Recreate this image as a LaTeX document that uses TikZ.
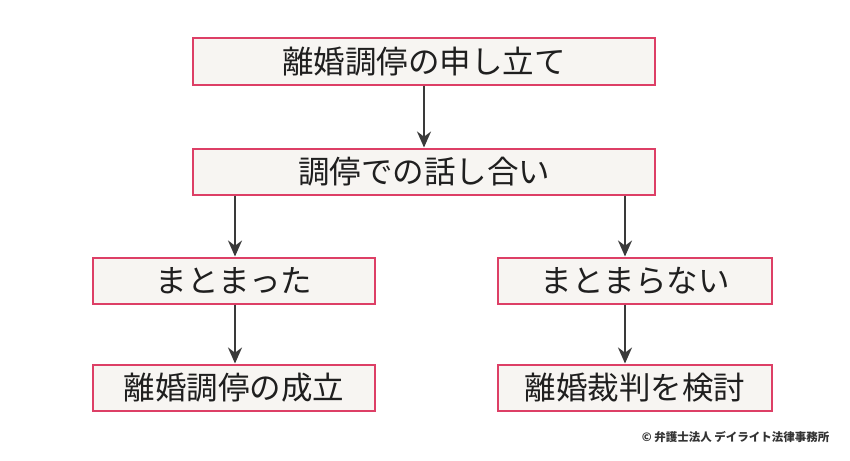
\documentclass[tikz,border=0pt]{standalone}
\usepackage{fontspec}
\setmainfont{Noto Sans CJK JP}
\usetikzlibrary{arrows.meta}
\definecolor{boxline}{HTML}{DD3F66}
\definecolor{boxfill}{HTML}{F7F5F2}
\definecolor{arrowgray}{HTML}{3A3A3A}
\tikzset{
  flowbox/.style={draw=boxline,fill=boxfill,line width=2pt,minimum height=46pt,
    inner sep=0pt,font=\fontsize{31.5}{33}\selectfont,text=black!88},
  flowarrow/.style={-{Stealth[length=16pt,width=14pt]},line width=2pt,draw=arrowgray}
}
\begin{document}
\begin{tikzpicture}[x=1pt,y=-1pt]
  \useasboundingbox[fill=white] (0,0) rectangle (850,460);

  \node[flowbox,minimum width=462pt] (apply) at (424,61.5) {離婚調停の申し立て};
  \node[flowbox,minimum width=462pt] (talk) at (424,171.5) {調停での話し合い};
  \node[flowbox,minimum width=282pt] (agree) at (234,280.5) {まとまった};
  \node[flowbox,minimum width=274pt] (fail) at (635,280.5) {まとまらない};
  \node[flowbox,minimum width=282pt] (settle) at (234,387.5) {離婚調停の成立};
  \node[flowbox,minimum width=274pt] (court) at (635,387.5) {離婚裁判を検討};

  \coordinate (lcol) at (235,0);
  \coordinate (rcol) at (625,0);

  \draw[flowarrow] (apply) -- (talk);
  \draw[flowarrow] (talk.south -| lcol) -- (agree.north -| lcol);
  \draw[flowarrow] (talk.south -| rcol) -- (fail.north -| rcol);
  \draw[flowarrow] (agree.south -| lcol) -- (settle.north -| lcol);
  \draw[flowarrow] (fail.south -| rcol) -- (court.north -| rcol);

  \node[anchor=east,font=\fontsize{11.5}{13}\selectfont\bfseries,text=black!80]
    (credit) at (833,437) {© 弁護士法人 デイライト法律事務所};
\end{tikzpicture}
\end{document}
